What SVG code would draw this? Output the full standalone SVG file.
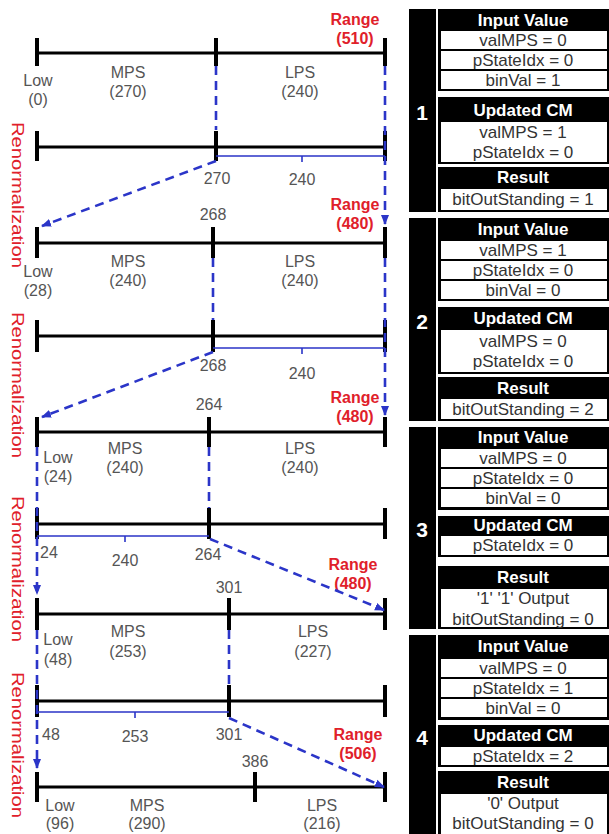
<svg xmlns="http://www.w3.org/2000/svg" width="609" height="834" viewBox="0 0 609 834">
<style>
.ax{stroke:#000;stroke-width:3;fill:none}
.tk{stroke:#000;stroke-width:4;fill:none}
.br{stroke:#2b35c8;stroke-width:1.6;fill:none}
.dash{stroke:#2b35c8;stroke-width:2.6;fill:none;stroke-dasharray:9 6}
.lb{font-family:"Liberation Sans",Arial,sans-serif;font-size:16px;fill:#555;text-anchor:middle}
.rg{font-family:"Liberation Sans",Arial,sans-serif;font-size:16px;font-weight:bold;fill:#e0202a;text-anchor:middle}
.rn{font-family:"Liberation Sans",Arial,sans-serif;font-size:17px;fill:#e0202a}
.blk{fill:#000}
.cell{fill:#fff}
.hd{font-family:"Liberation Sans",Arial,sans-serif;font-size:17px;font-weight:bold;fill:#fff;text-anchor:middle}
.rw{font-family:"Liberation Sans",Arial,sans-serif;font-size:17px;fill:#333;text-anchor:middle}
.num{font-family:"Liberation Sans",Arial,sans-serif;font-size:21px;font-weight:bold;fill:#fff;text-anchor:middle}
</style>
<defs>
<marker id="ah" markerWidth="10" markerHeight="10" refX="9" refY="5" orient="auto" markerUnits="userSpaceOnUse">
<path d="M0,1 L10,5 L0,9 Z" fill="#2b35c8"/>
</marker>
</defs>

<!-- Renormalization labels -->
<g id="renorm-labels">
<text class="rn" transform="translate(12,122) rotate(90)" textLength="146" lengthAdjust="spacingAndGlyphs">Renormalization</text>
<text class="rn" transform="translate(12,312) rotate(90)" textLength="146" lengthAdjust="spacingAndGlyphs">Renormalization</text>
<text class="rn" transform="translate(12,496) rotate(90)" textLength="146" lengthAdjust="spacingAndGlyphs">Renormalization</text>
<text class="rn" transform="translate(12,672) rotate(90)" textLength="146" lengthAdjust="spacingAndGlyphs">Renormalization</text>
</g>

<!-- interval lines -->
<g id="interval1">
<path class="ax" d="M37,53 H385"/>
<path class="tk" d="M37,38 V66 M216,38 V66 M385,38 V66"/>
<text class="lb" x="38" y="86">Low</text><text class="lb" x="38" y="105">(0)</text>
<text class="lb" x="128" y="78">MPS</text><text class="lb" x="128" y="97">(270)</text>
<text class="lb" x="300" y="78">LPS</text><text class="lb" x="300" y="97">(240)</text>
<text class="rg" x="355" y="25">Range</text><text class="rg" x="355" y="44">(510)</text>
</g>
<g id="interval2">
<path class="ax" d="M37,147 H385"/>
<path class="tk" d="M37,131 V161 M216,131 V161 M385,131 V161"/>
<path class="br" d="M216,156 H385 M302,156 V162"/>
<text class="lb" x="217" y="184">270</text><text class="lb" x="302" y="185">240</text>
</g>
<g id="interval3">
<path class="ax" d="M37,243 H385"/>
<path class="tk" d="M37,227 V258 M213,227 V258 M385,227 V258"/>
<text class="lb" x="213" y="220">268</text>
<text class="rg" x="355" y="210">Range</text><text class="rg" x="355" y="229">(480)</text>
<text class="lb" x="38" y="277">Low</text><text class="lb" x="38" y="296">(28)</text>
<text class="lb" x="128" y="267">MPS</text><text class="lb" x="128" y="286">(240)</text>
<text class="lb" x="300" y="267">LPS</text><text class="lb" x="300" y="286">(240)</text>
</g>
<g id="interval4">
<path class="ax" d="M37,336 H385"/>
<path class="tk" d="M37,320 V352 M213,320 V352 M385,320 V352"/>
<path class="br" d="M213,348 H385 M302,348 V354"/>
<text class="lb" x="213" y="371">268</text><text class="lb" x="302" y="379">240</text>
</g>
<g id="interval5">
<path class="ax" d="M37,432 H385"/>
<path class="tk" d="M37,417 V447 M209,417 V447 M385,417 V447"/>
<text class="lb" x="209" y="410">264</text>
<text class="rg" x="355" y="403">Range</text><text class="rg" x="355" y="422">(480)</text>
<text class="lb" x="58" y="463">Low</text><text class="lb" x="58" y="482">(24)</text>
<text class="lb" x="125" y="454">MPS</text><text class="lb" x="125" y="473">(240)</text>
<text class="lb" x="300" y="454">LPS</text><text class="lb" x="300" y="473">(240)</text>
</g>
<g id="interval6">
<path class="ax" d="M37,524 H385"/>
<path class="tk" d="M37,508 V539 M209,508 V539 M385,508 V539"/>
<path class="br" d="M37,536 H209 M125,536 V542"/>
<text class="lb" x="49" y="558">24</text><text class="lb" x="125" y="566">240</text><text class="lb" x="208" y="560">264</text>
</g>
<g id="interval7">
<path class="ax" d="M37,614 H385"/>
<path class="tk" d="M37,598 V630 M229,598 V630 M385,598 V630"/>
<text class="lb" x="229" y="593">301</text>
<text class="rg" x="353" y="570">Range</text><text class="rg" x="353" y="589">(480)</text>
<text class="lb" x="58" y="645">Low</text><text class="lb" x="58" y="665">(48)</text>
<text class="lb" x="128" y="637">MPS</text><text class="lb" x="128" y="657">(253)</text>
<text class="lb" x="313" y="637">LPS</text><text class="lb" x="313" y="657">(227)</text>
</g>
<g id="interval8">
<path class="ax" d="M37,701 H385"/>
<path class="tk" d="M37,685 V717 M229,685 V717 M385,685 V717"/>
<path class="br" d="M37,712 H229 M135,712 V718"/>
<text class="lb" x="51" y="740">48</text><text class="lb" x="135" y="742">253</text><text class="lb" x="229" y="740">301</text>
<text class="rg" x="358" y="740">Range</text><text class="rg" x="358" y="759">(506)</text>
</g>
<g id="interval9">
<path class="ax" d="M37,787 H385"/>
<path class="tk" d="M37,772 V802 M255,772 V802 M385,772 V802"/>
<text class="lb" x="255" y="767">386</text>
<text class="lb" x="60" y="811">Low</text><text class="lb" x="60" y="829">(96)</text>
<text class="lb" x="147" y="811">MPS</text><text class="lb" x="147" y="829">(290)</text>
<text class="lb" x="322" y="811">LPS</text><text class="lb" x="322" y="829">(216)</text>
</g>

<!-- connectors -->
<g id="connectors">
<path class="dash" d="M216,66 V130"/>
<path class="dash" d="M385,66 V224" marker-end="url(#ah)"/>
<path class="dash" d="M216,161 L42,226" marker-end="url(#ah)"/>
<path class="dash" d="M213,258 V320"/>
<path class="dash" d="M385,258 V415" marker-end="url(#ah)"/>
<path class="dash" d="M213,352 L42,417" marker-end="url(#ah)"/>
<path class="dash" d="M209,447 V508"/>
<path class="dash" d="M37,447 V594" marker-end="url(#ah)"/>
<path class="dash" d="M210,539 L384,610" marker-end="url(#ah)"/>
<path class="dash" d="M229,630 V685"/>
<path class="dash" d="M37,630 V768" marker-end="url(#ah)"/>
<path class="dash" d="M229,718 L384,787" marker-end="url(#ah)"/>
</g>

<!-- step tables -->
<g id="step1">
<rect class="blk" x="409" y="9" width="27" height="203"/>
<text class="num" x="422" y="120">1</text>
<rect class="blk" x="438" y="9" width="171" height="82"/>
<text class="hd" x="523" y="26">Input Value</text>
<rect class="cell" x="441" y="31" width="166" height="18"/><text class="rw" x="523" y="46">valMPS = 0</text>
<rect class="cell" x="441" y="51" width="166" height="18"/><text class="rw" x="523" y="66">pStateIdx = 0</text>
<rect class="cell" x="441" y="71" width="166" height="18"/><text class="rw" x="523" y="86">binVal = 1</text>
<rect class="blk" x="438" y="97" width="171" height="67"/>
<text class="hd" x="523" y="116">Updated CM</text>
<rect class="cell" x="441" y="122" width="166" height="40"/>
<text class="rw" x="523" y="138">valMPS = 1</text><text class="rw" x="523" y="158">pStateIdx = 0</text>
<rect class="blk" x="438" y="167" width="171" height="45"/>
<text class="hd" x="523" y="183">Result</text>
<rect class="cell" x="441" y="189" width="166" height="21"/><text class="rw" x="523" y="205">bitOutStanding = 1</text>
</g>
<g id="step2">
<rect class="blk" x="409" y="218" width="27" height="203"/>
<text class="num" x="422" y="329">2</text>
<rect class="blk" x="438" y="218" width="171" height="83"/>
<text class="hd" x="523" y="235">Input Value</text>
<rect class="cell" x="441" y="241" width="166" height="18"/><text class="rw" x="523" y="256">valMPS = 1</text>
<rect class="cell" x="441" y="261" width="166" height="18"/><text class="rw" x="523" y="276">pStateIdx = 0</text>
<rect class="cell" x="441" y="281" width="166" height="18"/><text class="rw" x="523" y="296">binVal = 0</text>
<rect class="blk" x="438" y="307" width="171" height="67"/>
<text class="hd" x="523" y="324">Updated CM</text>
<rect class="cell" x="441" y="330" width="166" height="42"/>
<text class="rw" x="523" y="347">valMPS = 0</text><text class="rw" x="523" y="367">pStateIdx = 0</text>
<rect class="blk" x="438" y="377" width="171" height="44"/>
<text class="hd" x="523" y="394">Result</text>
<rect class="cell" x="441" y="399" width="166" height="20"/><text class="rw" x="523" y="415">bitOutStanding = 2</text>
</g>
<g id="step3">
<rect class="blk" x="409" y="427" width="27" height="202"/>
<text class="num" x="422" y="537">3</text>
<rect class="blk" x="438" y="427" width="171" height="83"/>
<text class="hd" x="523" y="443">Input Value</text>
<rect class="cell" x="441" y="449" width="166" height="18"/><text class="rw" x="523" y="464">valMPS = 0</text>
<rect class="cell" x="441" y="469" width="166" height="18"/><text class="rw" x="523" y="484">pStateIdx = 0</text>
<rect class="cell" x="441" y="489" width="166" height="18"/><text class="rw" x="523" y="504">binVal = 0</text>
<rect class="blk" x="438" y="516" width="171" height="41"/>
<text class="hd" x="523" y="531">Updated CM</text>
<rect class="cell" x="441" y="536" width="166" height="19"/><text class="rw" x="523" y="551">pStateIdx = 0</text>
<rect class="blk" x="438" y="566" width="171" height="63"/>
<text class="hd" x="523" y="583">Result</text>
<rect class="cell" x="441" y="589" width="166" height="38"/>
<text class="rw" x="523" y="604">'1' '1' Output</text><text class="rw" x="523" y="625">bitOutStanding = 0</text>
</g>
<g id="step4">
<rect class="blk" x="409" y="635" width="27" height="199"/>
<text class="num" x="422" y="745">4</text>
<rect class="blk" x="438" y="635" width="171" height="85"/>
<text class="hd" x="523" y="652">Input Value</text>
<rect class="cell" x="441" y="659" width="166" height="18"/><text class="rw" x="523" y="674">valMPS = 0</text>
<rect class="cell" x="441" y="679" width="166" height="18"/><text class="rw" x="523" y="694">pStateIdx = 1</text>
<rect class="cell" x="441" y="699" width="166" height="18"/><text class="rw" x="523" y="714">binVal = 0</text>
<rect class="blk" x="438" y="725" width="171" height="42"/>
<text class="hd" x="523" y="741">Updated CM</text>
<rect class="cell" x="441" y="747" width="166" height="18"/><text class="rw" x="523" y="762">pStateIdx = 2</text>
<rect class="blk" x="438" y="771" width="171" height="63"/>
<text class="hd" x="523" y="788">Result</text>
<rect class="cell" x="441" y="794" width="166" height="40"/>
<text class="rw" x="523" y="809">'0' Output</text><text class="rw" x="523" y="829">bitOutStanding = 0</text>
</g>
</svg>
